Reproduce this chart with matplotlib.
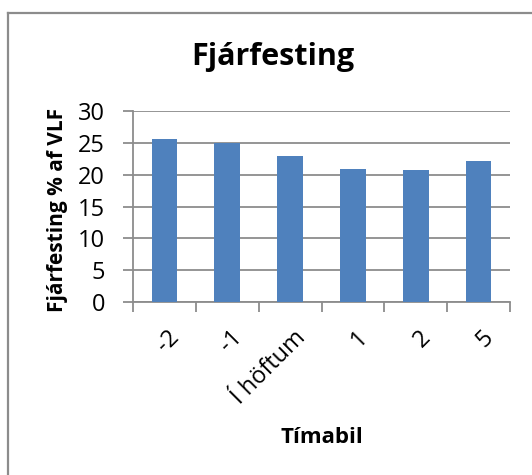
import matplotlib.pyplot as plt
from matplotlib.lines import Line2D
import numpy as np

plt.rcParams['font.family'] = ['Open Sans', 'DejaVu Sans']

categories = ['-2', '-1', 'Í höftum', '1', '2', '5']
values = [25.55, 24.95, 22.9, 20.9, 20.8, 22.1]

W, H = 532, 475
fig = plt.figure(figsize=(W / 100, H / 100), dpi=100)
ax = fig.add_axes([133 / W, 1 - 302 / H, 377 / W, 191 / H])

x = np.arange(len(categories))
ax.bar(x, values, width=0.41, color='#4f81bd', zorder=3)

ax.set_xlim(-0.5, len(categories) - 0.5)
ax.set_ylim(0, 30)
ax.set_yticks(range(0, 31, 5))
ax.yaxis.grid(True, color='#8c8c8c', linewidth=1.3, zorder=0)
ax.tick_params(axis='y', labelsize=17, length=7, width=1.3, color='#8c8c8c', pad=13)

# ticks between categories, labels at centres
ax.set_xticks(np.arange(-0.5, len(categories), 1.0))
ax.set_xticklabels([])
ax.tick_params(axis='x', which='major', length=7, width=1.3, color='#8c8c8c')
ax.set_xticks(x + 0.05, minor=True)
ax.set_xticklabels(categories, minor=True, rotation=45, ha='right',
                   rotation_mode='anchor', fontsize=17)
ax.tick_params(axis='x', which='minor', length=0, pad=17)

for s in ['top', 'right']:
    ax.spines[s].set_visible(False)
for s in ['left', 'bottom']:
    ax.spines[s].set_color('#8c8c8c')
    ax.spines[s].set_linewidth(1.3)

ax.set_ylabel('Fjárfesting % af VLF', fontsize=15, fontweight='bold', va='center')
ax.yaxis.set_label_coords(-0.2, 0.48)
ax.set_xlabel('Tímabil', fontsize=16, fontweight='bold', va='center')
ax.xaxis.set_label_coords(0.5, -0.707)
fig.text(273 / W, 1 - 57 / H, 'Fjárfesting', fontsize=22, fontweight='bold',
         ha='center', va='center')

# chart border (only the left and top edges are inside the picture)
fig.add_artist(Line2D([7.5 / W, 7.5 / W], [0, 1 - 12.5 / H], transform=fig.transFigure,
                      color='#8c8c8c', linewidth=1.6))
fig.add_artist(Line2D([7.5 / W, 1], [1 - 12.5 / H, 1 - 12.5 / H], transform=fig.transFigure,
                      color='#8c8c8c', linewidth=1.6))

fig.savefig('out.png', dpi=100)
